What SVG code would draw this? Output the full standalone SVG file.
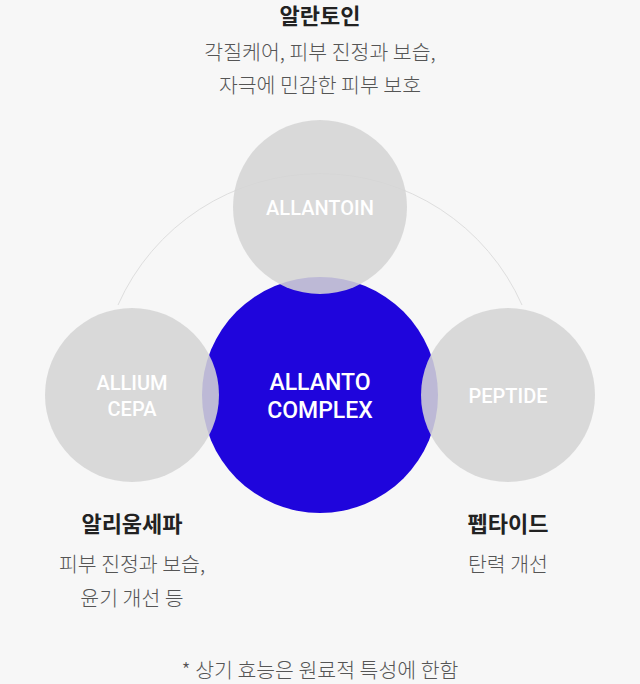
<svg xmlns="http://www.w3.org/2000/svg" width="640" height="684" viewBox="0 0 640 684">
<style>
.g{fill:#d4d4d4;opacity:0.87}
.ct{font-family:Roboto,"Liberation Sans",sans-serif;font-weight:500;fill:#fff;text-anchor:middle;font-size:20px}
.c2{font-size:23px}
.h{font-family:"Noto Sans CJK KR",sans-serif;font-weight:700;font-size:22px;fill:#222;text-anchor:middle}
.s{font-family:"Noto Sans CJK KR",sans-serif;font-weight:300;font-size:20.5px;fill:#555;text-anchor:middle}
</style>
<rect width="640" height="684" fill="#f7f7f7"/>
<g id="connectors"><path d="M118,305 A221,221 0 0 1 522,305" fill="none" stroke="#dedede" stroke-width="1"/></g>
<g id="complex"><circle cx="320" cy="395" r="118" fill="#1f05dc"/><text class="ct c2" x="320" y="390">ALLANTO</text><text class="ct c2" x="320" y="418">COMPLEX</text></g>
<g id="allantoin"><circle class="g" cx="320" cy="207" r="87"/><text class="ct" x="320" y="215">ALLANTOIN</text>
<text class="h" x="320" y="24">알란토인</text><text class="s" x="320" y="60">각질케어, 피부 진정과 보습,</text><text class="s" x="320" y="93">자극에 민감한 피부 보호</text></g>
<g id="allium"><circle class="g" cx="132" cy="395" r="87"/><text class="ct" x="132" y="390">ALLIUM</text><text class="ct" x="132" y="416">CEPA</text>
<text class="h" x="132" y="532">알리움세파</text><text class="s" x="132" y="572">피부 진정과 보습,</text><text class="s" x="132" y="606">윤기 개선 등</text></g>
<g id="peptide"><circle class="g" cx="508" cy="395" r="87"/><text class="ct" x="508" y="403">PEPTIDE</text>
<text class="h" x="508" y="532">펩타이드</text><text class="s" x="508" y="572">탄력 개선</text></g>
<text class="s" x="320" y="678" fill="#777">* 상기 효능은 원료적 특성에 한함</text>
</svg>
